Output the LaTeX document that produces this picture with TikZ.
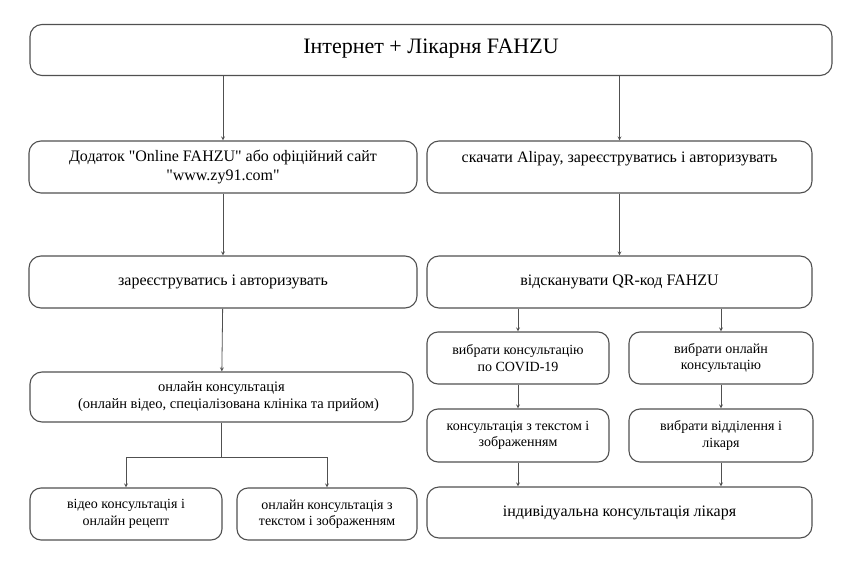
\documentclass[tikz,border=0pt]{standalone}
\usepackage{fontspec}
\setmainfont{Liberation Serif}
\usetikzlibrary{positioning}

\definecolor{linegray}{HTML}{505050}

\tikzset{
  stage/.style={draw=linegray, line width=1.1pt, rounded corners=12pt,
    align=center, inner sep=2pt, font=\fontsize{16}{19}\selectfont},
  substage/.style={stage, rounded corners=11pt, font=\fontsize{14}{16.5}\selectfont},
  flow/.style={->, >=stealth, draw=linegray, line width=0.8pt}
}

\begin{document}
\begin{tikzpicture}[x=1pt, y=-1pt]
  \useasboundingbox (0,0) rectangle (850,561);
  % top
  \node[stage, minimum width=802pt, minimum height=51pt, text depth=7pt, font=\fontsize{22}{25}\selectfont] (net) at (431,50) {Інтернет + Лікарня FAHZU};
  % left column
  \node[stage, minimum width=388pt, minimum height=52pt] (app) at (223,167) {Додаток \textquotedbl Online FAHZU\textquotedbl{} або офіційний сайт\\\textquotedbl www.zy91.com\textquotedbl};
  \node[stage, minimum width=388pt, minimum height=52pt] (reg) at (223,282) {зареєструватись і авторизувать};
  \node[stage, minimum width=383pt, minimum height=50pt, font=\fontsize{14.5}{17}\selectfont] (online) at (221.5,397) {онлайн консультація\\\hspace*{14pt}(онлайн відео, спеціалізована клініка та прийом)};
  \node[substage, minimum width=192pt, minimum height=52pt] (video) at (126,514) {відео консультація і\\онлайн рецепт};
  \node[substage, minimum width=180pt, minimum height=52pt] (textcons) at (327,514) {онлайн консультація з\\текстом і зображенням};
  \coordinate (split) at (221.5,457);
  % right column
  \node[stage, minimum width=385pt, minimum height=52pt, text depth=20pt] (alipay) at (619.5,167) {скачати Alipay, зареєструватись і авторизувать};
  \node[stage, minimum width=385pt, minimum height=52pt] (qr) at (619.5,282) {відсканувати QR-код FAHZU};
  \node[substage, minimum width=182pt, minimum height=52pt] (covid) at (518,358) {вибрати консультацію\\по COVID-19};
  \node[substage, minimum width=184pt, minimum height=52pt] (choose) at (721,358) {вибрати онлайн\\консультацію};
  \node[substage, minimum width=182pt, minimum height=53pt] (textimg) at (518,435.5) {консультація з текстом і\\зображенням};
  \node[substage, minimum width=184pt, minimum height=53pt] (dept) at (721,435.5) {вибрати відділення і\\лікаря};
  \node[stage, minimum width=385pt, minimum height=51pt] (doctor) at (619.5,512.5) {індивідуальна консультація лікаря};

  \draw[flow] (net.south -| app.north) -- (app.north);
  \draw[flow] (net.south -| alipay.north) -- (alipay.north);
  \draw[flow] (app) -- (reg);
  \draw[flow] (reg) -- (online);
  \draw[draw=linegray, line width=0.8pt] (online.south) -- (split);
  \draw[flow] (split) -| (video.north);
  \draw[flow] (split) -| (textcons.north);
  \draw[flow] (alipay) -- (qr);
  \draw[flow] (qr.south -| covid.north) -- (covid.north);
  \draw[flow] (qr.south -| choose.north) -- (choose.north);
  \draw[flow] (covid) -- (textimg);
  \draw[flow] (choose) -- (dept);
  \draw[flow] (textimg.south) -- (doctor.north -| textimg.south);
  \draw[flow] (dept.south) -- (doctor.north -| dept.south);
\end{tikzpicture}
\end{document}
